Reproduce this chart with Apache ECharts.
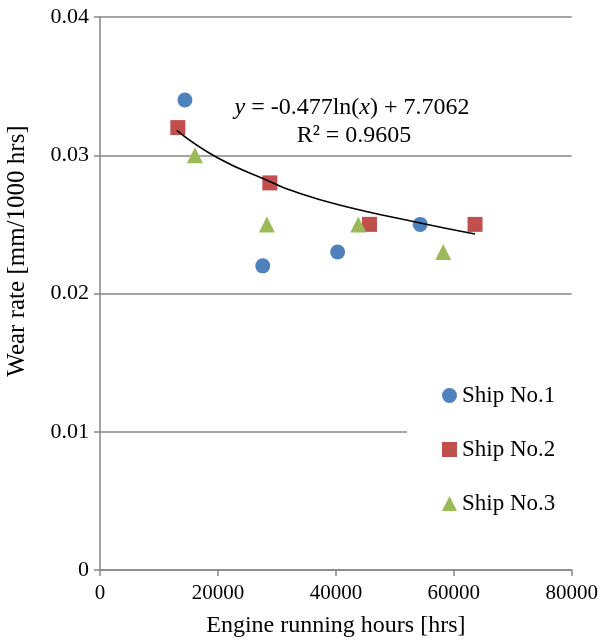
<!DOCTYPE html>
<html><head><meta charset="utf-8">
<script src="https://cdn.jsdelivr.net/npm/echarts@6/dist/echarts.min.js"></script>
<style>html,body{margin:0;padding:0;background:#fff}#c{width:601px;height:643px}</style>
</head><body><div id="c"></div>
<script>
// Data
var ship1 = [[14400, 0.034], [27600, 0.022], [40300, 0.023], [54300, 0.025]];
var ship2 = [[13200, 0.032], [28800, 0.028], [45700, 0.025], [63600, 0.025]];
var ship3 = [[16100, 0.030], [28300, 0.025], [43800, 0.025], [58200, 0.023]];
// Trend line
var trendPoints = [[13000, 0.0318], [20000, 0.0298], [28800, 0.0281], [32100, 0.0275], [40600, 0.0264], [54300, 0.0251], [63600, 0.0243]];
var seriesNames = ['Ship No.1', 'Ship No.2', 'Ship No.3'];
var xTicks = [0, 20000, 40000, 60000, 80000];
var yTicks = [0, 0.01, 0.02, 0.03, 0.04];

var FONT = '"Liberation Serif", "Times New Roman", serif';
var GRAY = '#868686';
var chart = echarts.init(document.getElementById('c'), null, {renderer: 'canvas'});
chart.setOption({
  animation: false,
  backgroundColor: '#fff',
  grid: {left: 100, right: 28, top: 17, bottom: 73},
  xAxis: {
    type: 'value', min: xTicks[0], max: xTicks[xTicks.length - 1], interval: 20000,
    name: 'Engine running hours [hrs]', nameLocation: 'middle', nameGap: 44,
    nameTextStyle: {fontFamily: FONT, fontSize: 24, color: '#000'},
    axisLine: {show: true, lineStyle: {color: GRAY, width: 1.5}},
    axisTick: {show: true, inside: false, length: 6, lineStyle: {color: GRAY, width: 1.5}},
    axisLabel: {fontFamily: FONT, fontSize: 21, color: '#000', margin: 13,
                formatter: function (v) { return String(v); }},
    splitLine: {show: false}
  },
  yAxis: {
    type: 'value', min: yTicks[0], max: yTicks[yTicks.length - 1], interval: 0.01,
    axisLine: {show: true, lineStyle: {color: GRAY, width: 1.5}},
    axisTick: {show: true, inside: false, length: 6, lineStyle: {color: GRAY, width: 1.5}},
    axisLabel: {fontFamily: FONT, fontSize: 22, color: '#000', margin: 11,
                formatter: function (v) { return String(v); }},
    splitLine: {show: true, lineStyle: {color: GRAY, width: 1.5}}
  },
  legend: {
    data: seriesNames, orient: 'vertical', left: 407, top: 361,
    padding: [23, 40, 23, 35], itemGap: 31, itemWidth: 15, itemHeight: 15,
    backgroundColor: '#fff',
    textStyle: {fontFamily: FONT, fontSize: 23, color: '#000', lineHeight: 23}
  },
  graphic: [
    {type: 'text', x: 17, y: 251, rotation: Math.PI / 2, z: 10,
     style: {text: 'Wear rate [mm/1000 hrs]', align: 'center', verticalAlign: 'middle',
             fontFamily: FONT, fontSize: 25, fill: '#000'}},
    {type: 'text', x: 352, y: 108, z: 10,
     style: {text: '{i|y} = -0.477ln({i|x}) + 7.7062', align: 'center', verticalAlign: 'middle',
             fontFamily: FONT, fontSize: 24, fill: '#000',
             rich: {i: {fontStyle: 'italic', fontFamily: FONT, fontSize: 24, fill: '#000'}}}},
    {type: 'text', x: 354, y: 136, z: 10,
     style: {text: 'R² = 0.9605', align: 'center', verticalAlign: 'middle',
             fontFamily: FONT, fontSize: 24, fill: '#000'}}
  ],
  series: [
    {name: 'Trend', type: 'line', data: trendPoints, smooth: true, showSymbol: false, symbol: 'none',
     lineStyle: {color: '#000', width: 1.6}, z: 3, silent: true},
    {name: seriesNames[0], type: 'scatter', data: ship1, symbol: 'circle', symbolSize: 15,
     itemStyle: {color: '#4f81bd', opacity: 1}, z: 2},
    {name: seriesNames[1], type: 'scatter', data: ship2, symbol: 'rect', symbolSize: 15,
     itemStyle: {color: '#c0504d', opacity: 1}, z: 2},
    {name: seriesNames[2], type: 'scatter', data: ship3, symbol: 'triangle', symbolSize: 16,
     itemStyle: {color: '#9bbb59', opacity: 1}, z: 2}
  ]
});
</script></body></html>
